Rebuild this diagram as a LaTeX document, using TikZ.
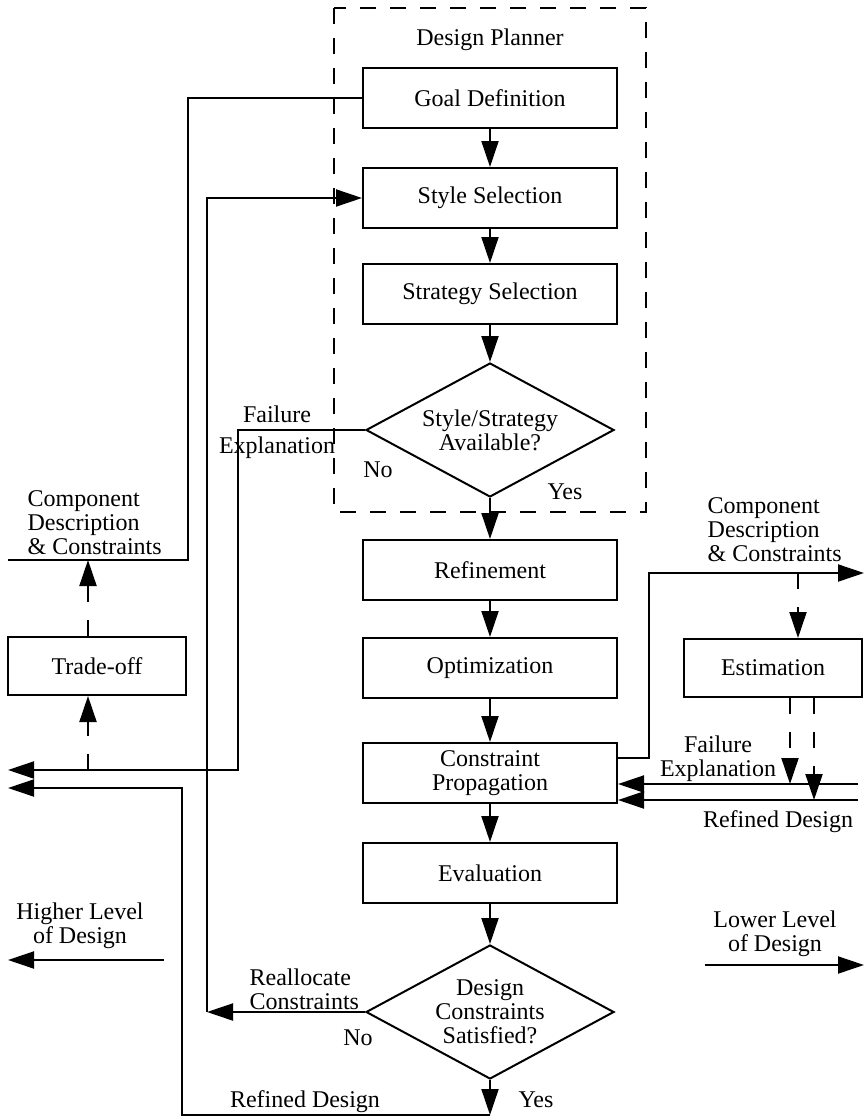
\documentclass[tikz,border=0pt]{standalone}
\usepackage{fontspec}
\setmainfont{Liberation Serif}
\usetikzlibrary{arrows.meta, shapes.geometric}

\begin{document}
\begin{tikzpicture}[x=0.5pt, y=-0.5pt, line width=1pt,
    font=\fontsize{12}{12}\selectfont,
    block/.style={draw, minimum width=127pt, minimum height=30pt, align=center, inner sep=2pt},
    smallblock/.style={block, minimum width=89pt, minimum height=29pt},
    decision/.style={draw, diamond, aspect=1.85, minimum width=124pt, minimum height=67pt, inner sep=0pt, align=center},
    arr/.style={-{Triangle[length=13pt, width=8.5pt]}},
    dasharr/.style={arr, dash pattern=on 8pt off 9pt}]
    \useasboundingbox (0,0) rectangle (865,1119);

    % planner frame
    \draw[dash pattern=on 8pt off 7pt] (334,8) rectangle (646,512);
    \node (planner) at (490,40) {Design Planner};

    % main column
    \node[block] (goal) at (490,98) {Goal Definition};
    \node[block] (style) at (490,198) {Style Selection};
    \node[block] (strategy) at (490,294) {Strategy Selection};
    \node[decision] (avail) at (490,430) {Style/Strategy\\Available?};
    \node[block] (refine) at (490,570) {Refinement};
    \node[block] (optim) at (490,668) {Optimization};
    \node[block] (cprop) at (490,773) {Constraint\\Propagation};
    \node[block] (eval) at (490,873) {Evaluation};
    \node[decision] (satisf) at (490,1012) {Design\\Constraints\\Satisfied?};

    \node[smallblock] (tradeoff) at (97,666) {Trade-off};
    \node[smallblock] (estim) at (773,668) {Estimation};

    \draw[arr] (goal) -- (style);
    \draw[arr] (style) -- (strategy);
    \draw[arr] (strategy) -- (avail);
    \draw[arr] (avail) -- (refine);
    \draw[arr] (refine) -- (optim);
    \draw[arr] (optim) -- (cprop);
    \draw[arr] (cprop) -- (eval);
    \draw[arr] (eval) -- (satisf);

    % ends of the level connectors
    \coordinate (hiCD) at (8,560);
    \coordinate (hiFE) at (8,770);
    \coordinate (hiRD) at (8,788);
    \coordinate (loCD) at (864,573);
    \coordinate (loFE) at (858,784);
    \coordinate (loRD) at (858,800);
    \coordinate (yes) at (490,1115);
    \coordinate (realloc) at (207,1012);
    \coordinate (tdUp) at (88,560);
    \coordinate (tdDown) at (88,770);
    \coordinate (estIn) at (798,573);
    \coordinate (feDrop) at (790,784);
    \coordinate (rdDrop) at (814,800);

    % towards the higher level
    \draw (goal.west) -- (188,98) |- (hiCD);
    \draw[arr] (avail.west) -- (238,430) |- (hiFE);
    \draw[arr] (satisf.south) -- (yes);
    \draw[arr] (yes) -| (182,788) -- (hiRD);
    \draw[arr] (satisf.west) -- (realloc);
    \draw[arr] (realloc) |- (style.west);
    \draw[dasharr] (tdDown) -- (tdDown |- tradeoff.south);
    \draw[dasharr] (tdUp |- tradeoff.north) -- (tdUp);

    % towards the lower level
    \draw[arr] ([yshift=7.5pt]cprop.east) -- (649,758) |- (loCD);
    \draw[dasharr] (estIn) -- (estIn |- estim.north);
    \draw[dasharr] (feDrop |- estim.south) -- (feDrop);
    \draw[dasharr] (rdDrop |- estim.south) -- (rdDrop);
    \draw[arr] (loFE) -- (loFE -| cprop.east);
    \draw[arr] (loRD) -- (loRD -| cprop.east);

    % labels
    \node[align=center, font=\fontsize{12}{15.5}\selectfont] (fe1) at (277,432) {Failure\\Explanation};
    \node (no1) at (378,470) {No};
    \node (yes1) at (565,492) {Yes};
    \node[anchor=west, align=left] (cd1) at (20,523) {Component\\Description\\\& Constraints};
    \node[anchor=west, align=left] (cd2) at (700,530) {Component\\Description\\\& Constraints};
    \node[align=center] (fe2) at (718,759) {Failure\\Explanation};
    \node (rd2) at (778,822) {Refined Design};
    \node[anchor=west, align=left] (ra) at (242,989) {Reallocate\\Constraints};
    \node (no2) at (358,1038) {No};
    \node (yes2) at (536,1100) {Yes};
    \node (rd1) at (305,1102) {Refined Design};

    \node[align=center] (higher) at (80,926) {Higher Level\\of Design};
    \node[align=center] (lower) at (775,934) {Lower Level\\of Design};
    \coordinate (hiA) at (164,960);
    \coordinate (hiB) at (8,960);
    \coordinate (loA) at (705,965);
    \coordinate (loB) at (864,965);
    \draw[arr] (hiA) -- (hiB);
    \draw[arr] (loA) -- (loB);
\end{tikzpicture}
\end{document}
